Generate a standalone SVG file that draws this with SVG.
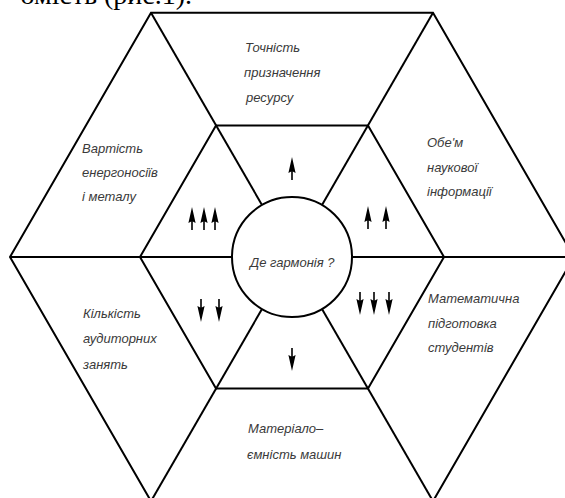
<svg xmlns="http://www.w3.org/2000/svg" width="565" height="498" viewBox="0 0 565 498">
<style>
.ln{fill:none;stroke:#000;stroke-width:2;stroke-linejoin:miter}
.t{font-family:"Liberation Sans",Arial,sans-serif;font-style:italic;font-size:13px;fill:#3a3a3a}
.hdr{font-family:"Liberation Serif","Times New Roman",serif;font-size:28px;fill:#000}
.ar{fill:#000}
</style>
<defs>
<path id="up" d="M0,0 L3.6,16 L0.8,14.5 L0.8,23 L-0.8,23 L-0.8,14.5 L-3.6,16 Z"/>
<path id="dn" d="M0,0 L3.6,-16 L0.8,-14.5 L0.8,-23 L-0.8,-23 L-0.8,-14.5 L-3.6,-16 Z"/>
</defs>
<rect width="565" height="498" fill="#fff"/>
<text class="hdr" x="192" y="4" text-anchor="end">омість (рис.1).</text>
<g id="connectors">
<polygon class="ln" points="574,257 433,12.8 151,12.8 10,257 151,501.2 433,501.2"/>
<polygon class="ln" points="444,257 368,125.4 216,125.4 140,257 216,388.6 368,388.6"/>
<line class="ln" x1="574" y1="257" x2="352" y2="257"/>
<line class="ln" x1="433" y1="12.8" x2="322" y2="205"/>
<line class="ln" x1="151" y1="12.8" x2="262" y2="205"/>
<line class="ln" x1="10" y1="257" x2="232" y2="257"/>
<line class="ln" x1="151" y1="501.2" x2="262" y2="309"/>
<line class="ln" x1="433" y1="501.2" x2="322" y2="309"/>
</g>
<g id="center">
<circle class="ln" cx="292" cy="257" r="60"/>
<text class="t" x="250" y="267">Де гармонія ?</text>
</g>
<g id="top">
<text class="t" x="245" y="52">Точність</text>
<text class="t" x="244" y="77">призначення</text>
<text class="t" x="246" y="102">ресурсу</text>
<use href="#up" x="292" y="157" class="ar"/>
</g>
<g id="upper-left">
<text class="t" x="82" y="153">Вартість</text>
<text class="t" x="82" y="177">енергоносіїв</text>
<text class="t" x="82" y="201">і металу</text>
<use href="#up" x="192" y="207"/>
<use href="#up" x="204" y="207"/>
<use href="#up" x="215" y="207"/>
</g>
<g id="upper-right">
<text class="t" x="427" y="147">Обе'м</text>
<text class="t" x="427" y="172">наукової</text>
<text class="t" x="427" y="196">інформації</text>
<use href="#up" x="368" y="206"/>
<use href="#up" x="386" y="206"/>
</g>
<g id="lower-left">
<text class="t" x="83" y="318">Кількість</text>
<text class="t" x="83" y="343">аудиторних</text>
<text class="t" x="83" y="369">занять</text>
<use href="#dn" x="201" y="322"/>
<use href="#dn" x="219" y="322"/>
</g>
<g id="lower-right">
<text class="t" x="428" y="303">Математична</text>
<text class="t" x="428" y="328">підготовка</text>
<text class="t" x="428" y="352">студентів</text>
<use href="#dn" x="360" y="315"/>
<use href="#dn" x="374" y="315"/>
<use href="#dn" x="389" y="315"/>
</g>
<g id="bottom">
<text class="t" x="248" y="433">Матеріало–</text>
<text class="t" x="247" y="459">ємність машин</text>
<use href="#dn" x="292" y="371"/>
</g>
</svg>
